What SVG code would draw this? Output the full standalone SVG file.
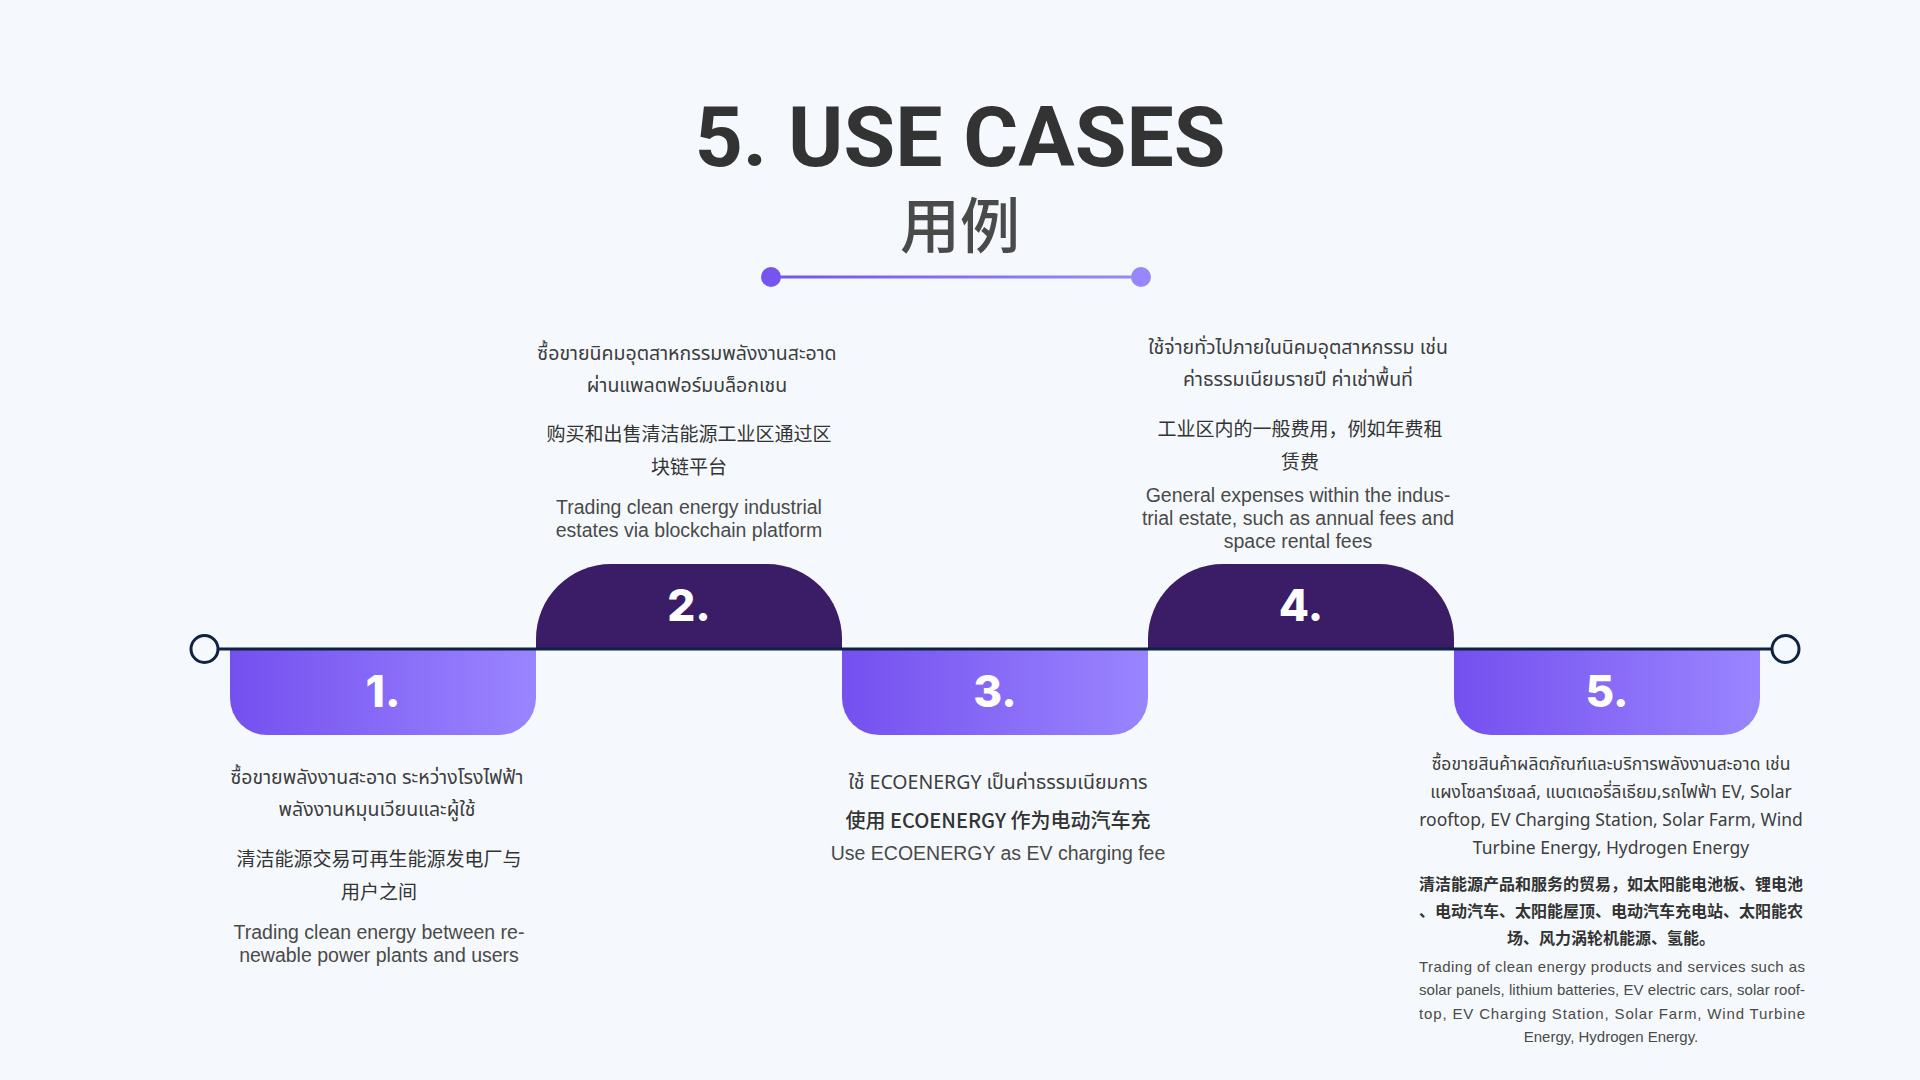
<svg xmlns="http://www.w3.org/2000/svg" width="1920" height="1080" viewBox="0 0 1920 1080">
  <defs>
    <linearGradient id="tabGrad" x1="0" y1="0" x2="1" y2="0">
      <stop offset="0" stop-color="#7450ef"/>
      <stop offset="1" stop-color="#9a85ff"/>
    </linearGradient>
    <linearGradient id="decoGrad" gradientUnits="userSpaceOnUse" x1="771" y1="277" x2="1141" y2="277">
      <stop offset="0" stop-color="#7554f0"/>
      <stop offset="1" stop-color="#9a88ff"/>
    </linearGradient>
    <style>
      .title { font-family: Roboto, "Liberation Sans", sans-serif; font-weight: 700; font-size: 84px; fill: #333333; }
      .subtitle { font-family: "Noto Sans CJK SC", sans-serif; font-weight: 500; font-size: 60px; fill: #4a4a4a; }
      .num { font-family: Inter, "Liberation Sans", sans-serif; font-weight: 800; font-size: 44px; fill: #ffffff; }
      .th { font-family: "Noto Sans Thai", "Noto Sans", "Liberation Sans", sans-serif; font-size: 19.5px; fill: #3d3d3d; }
      .zh { font-family: "Noto Sans CJK SC", sans-serif; font-size: 19px; fill: #333333; }
      .en { font-family: "Liberation Sans", Arial, sans-serif; font-size: 19.5px; fill: #4a4a4a; }
      .up { fill: #3a1c67; }
      .down { fill: url(#tabGrad); }
      .mid { text-anchor: middle; }
    </style>
  </defs>

  <rect x="0" y="0" width="1920" height="1080" fill="#f5f9fd"/>

  <g id="title">
    <text class="title mid" x="960" y="166">5. USE CASES</text>
    <text class="subtitle mid" x="960" y="248">用例</text>
    <line x1="771" y1="277" x2="1141" y2="277" stroke="url(#decoGrad)" stroke-width="3"/>
    <circle cx="771" cy="277" r="10" fill="#7554f0"/>
    <circle cx="1141" cy="277" r="10" fill="#9886ff"/>
  </g>

  <g id="step1">
    <path class="down" d="M230,649 H536 V698 A37,37 0 0 1 499,735 H267 A37,37 0 0 1 230,698 Z"/>
    <text class="num mid" x="383" y="707">1.</text>
    <text class="th mid" x="377" y="784">ซื้อขายพลังงานสะอาด ระหว่างโรงไฟฟ้า</text>
    <text class="th mid" x="377" y="816">พลังงานหมุนเวียนและผู้ใช้</text>
    <text class="zh mid" x="379" y="866">清洁能源交易可再生能源发电厂与</text>
    <text class="zh mid" x="379" y="899">用户之间</text>
    <text class="en mid" x="379" y="939">Trading clean energy between re-</text>
    <text class="en mid" x="379" y="962">newable power plants and users</text>
  </g>

  <g id="step2">
    <path class="up" d="M536,649 V639 A75,75 0 0 1 611,564 H767 A75,75 0 0 1 842,639 V649 Z"/>
    <text class="num mid" x="689" y="621">2.</text>
    <text class="th mid" x="687" y="360">ซื้อขายนิคมอุตสาหกรรมพลังงานสะอาด</text>
    <text class="th mid" x="687" y="392">ผ่านแพลตฟอร์มบล็อกเชน</text>
    <text class="zh mid" x="689" y="441">购买和出售清洁能源工业区通过区</text>
    <text class="zh mid" x="689" y="474">块链平台</text>
    <text class="en mid" x="689" y="514">Trading clean energy industrial</text>
    <text class="en mid" x="689" y="537">estates via blockchain platform</text>
  </g>

  <g id="step3">
    <path class="down" d="M842,649 H1148 V698 A37,37 0 0 1 1111,735 H879 A37,37 0 0 1 842,698 Z"/>
    <text class="num mid" x="995" y="707">3.</text>
    <text class="th mid" x="998" y="789">ใช้ ECOENERGY เป็นค่าธรรมเนียมการ</text>
    <text class="zh mid" x="998" y="828" style="font-weight:500;font-size:20px">使用 ECOENERGY 作为电动汽车充</text>
    <text class="en mid" x="998" y="860">Use ECOENERGY as EV charging fee</text>
  </g>

  <g id="step4">
    <path class="up" d="M1148,649 V639 A75,75 0 0 1 1223,564 H1379 A75,75 0 0 1 1454,639 V649 Z"/>
    <text class="num mid" x="1301" y="621">4.</text>
    <text class="th mid" x="1298" y="354">ใช้จ่ายทั่วไปภายในนิคมอุตสาหกรรม เช่น</text>
    <text class="th mid" x="1298" y="386">ค่าธรรมเนียมรายปี ค่าเช่าพื้นที่</text>
    <text class="zh mid" x="1300" y="436">工业区内的一般费用，例如年费租</text>
    <text class="zh mid" x="1300" y="469">赁费</text>
    <text class="en mid" x="1298" y="502">General expenses within the indus-</text>
    <text class="en mid" x="1298" y="525">trial estate, such as annual fees and</text>
    <text class="en mid" x="1298" y="548">space rental fees</text>
  </g>

  <g id="step5">
    <path class="down" d="M1454,649 H1760 V698 A37,37 0 0 1 1723,735 H1491 A37,37 0 0 1 1454,698 Z"/>
    <text class="num mid" x="1607" y="707">5.</text>
    <text class="th mid" x="1611" y="770" style="font-size:17.5px">ซื้อขายสินค้าผลิตภัณฑ์และบริการพลังงานสะอาด เช่น</text>
    <text class="th mid" x="1611" y="798" style="font-size:17.5px">แผงโซลาร์เซลล์, แบตเตอรี่ลิเธียม,รถไฟฟ้า EV,  Solar</text>
    <text class="th mid" x="1611" y="826" style="font-size:17.5px">rooftop, EV Charging Station, Solar Farm, Wind</text>
    <text class="th mid" x="1611" y="854" style="font-size:17.5px">Turbine Energy, Hydrogen Energy</text>
    <text class="zh mid" x="1611" y="890" style="font-weight:700;font-size:16px">清洁能源产品和服务的贸易，如太阳能电池板、锂电池</text>
    <text class="zh mid" x="1611" y="917" style="font-weight:700;font-size:16px">、电动汽车、太阳能屋顶、电动汽车充电站、太阳能农</text>
    <text class="zh mid" x="1611" y="944" style="font-weight:700;font-size:16px">场、风力涡轮机能源、氢能。</text>
    <text class="en" x="1419" y="972" style="font-size:15px" textLength="386" lengthAdjust="spacing">Trading of clean energy products and services such as</text>
    <text class="en" x="1419" y="995" style="font-size:15px" textLength="386" lengthAdjust="spacing">solar panels, lithium batteries, EV electric cars, solar roof-</text>
    <text class="en" x="1419" y="1019" style="font-size:15px" textLength="386" lengthAdjust="spacing">top, EV Charging Station, Solar Farm, Wind Turbine</text>
    <text class="en mid" x="1611" y="1042" style="font-size:15px">Energy, Hydrogen Energy.</text>
  </g>

  <g id="connectors">
    <line x1="218" y1="649" x2="1772" y2="649" stroke="#0d2340" stroke-width="3"/>
    <circle cx="204.5" cy="649" r="13.5" fill="#f5f9fd" stroke="#0d2340" stroke-width="3"/>
    <circle cx="1785.5" cy="649" r="13.5" fill="#f5f9fd" stroke="#0d2340" stroke-width="3"/>
  </g>
</svg>
